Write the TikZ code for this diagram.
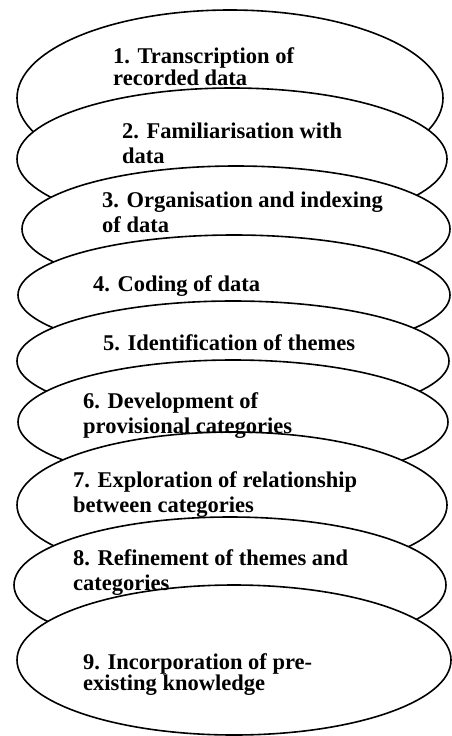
\documentclass[tikz,border=0pt]{standalone}
\usepackage{fontspec}
\setmainfont{Liberation Serif}

\begin{document}
\begin{tikzpicture}[
    x=1pt, y=-1pt,
    stage/.style={fill=white, draw=black, line width=1.6pt},
    stage text/.style={anchor=base west, inner sep=0pt, align=left,
        font=\fontsize{22.5}{25}\selectfont\bfseries},
    ]
    \useasboundingbox (0,0) rectangle (451,736);

    % stacked stages, later ones on top
    \foreach \cx/\cy/\rx/\ry in {230/98/213/88, 232/159/215/71, 236/229/214/63,
        234/295/216/60, 233/361/216/60, 233/422/215/62, 232/505/215/73,
        230/585/216/68, 234/660/217/75}
    \draw [stage] (\cx,\cy) ellipse [x radius=\rx, y radius=\ry];

    % stage texts (y is the baseline of the last line)
    \foreach \i/\x/\y/\txt in {
        1/113/85/{1. Transcription of\\[-3pt]recorded data},
        2/122/163/{2. Familiarisation with\\data},
        3/102/232/{3. Organisation and indexing\\of data},
        4/93/291/{4. Coding of data},
        5/103/350/{5. Identification of themes},
        6/83/433/{6. Development of\\provisional categories},
        7/73/512/{7. Exploration of relationship\\between categories},
        8/73/590/{8. Refinement of themes and\\categories},
        9/83/690/{9. Incorporation of pre-\\[-4pt]existing knowledge}}
    \node [stage text] (t\i) at (\x,\y) {\txt};
\end{tikzpicture}
\end{document}
